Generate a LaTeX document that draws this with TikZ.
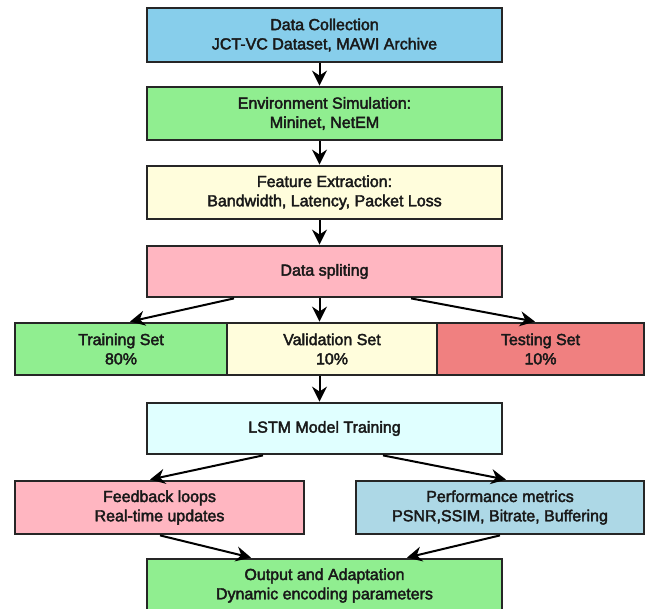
\documentclass[tikz,border=0pt]{standalone}
\usepackage{fontspec}
\setmainfont[FakeBold=2.5]{Liberation Sans}
\usetikzlibrary{arrows.meta}
\definecolor{cSky}{HTML}{87CEEB}
\definecolor{cGreen}{HTML}{90EE90}
\definecolor{cYellow}{HTML}{FFFDDC}
\definecolor{cPink}{HTML}{FFB6C1}
\definecolor{cCoral}{HTML}{F08080}
\definecolor{cCyan}{HTML}{E0FFFF}
\definecolor{cBlue}{HTML}{ADD8E6}
\begin{document}
\begin{tikzpicture}[x=1pt,y=-1pt,
  box/.style={draw=black!85,line width=2.8pt,rectangle,align=center,inner sep=0pt,
    font=\fontsize{16}{19.3}\selectfont,text=black!90},
  mainbox/.style={box,minimum width=355pt},
  arr/.style={-{Stealth[length=15pt,width=15pt,inset=5pt]},line width=2pt,black}]
\useasboundingbox (0,0) rectangle (646,609);
\node[mainbox,fill=cSky,minimum height=54pt] (dc) at (324.5,35) {Data Collection\\JCT-VC Dataset, MAWI Archive};
\node[mainbox,fill=cGreen,minimum height=53pt] (env) at (324.5,113.5) {Environment Simulation:\\Mininet, NetEM};
\node[mainbox,fill=cYellow,minimum height=53pt] (feat) at (324.5,192.5) {Feature Extraction:\\Bandwidth, Latency, Packet Loss};
\node[mainbox,fill=cPink,minimum height=51pt] (split) at (324.5,271.5) {Data spliting};
\node[box,fill=cGreen,minimum width=212pt,minimum height=52pt] (train) at (121,349) {Training Set\\80\%};
\node[box,fill=cYellow,minimum width=210pt,minimum height=52pt] (val) at (332,349) {Validation Set\\10\%};
\node[box,fill=cCoral,minimum width=207pt,minimum height=52pt] (test) at (540.5,349) {Testing Set\\10\%};
\node[mainbox,fill=cCyan,minimum height=51pt] (lstm) at (324.5,428.5) {LSTM Model Training};
\node[box,fill=cPink,minimum width=289pt,minimum height=53pt] (fb) at (159.5,507.5) {Feedback loops\\Real-time updates};
\node[box,fill=cBlue,minimum width=288pt,minimum height=53pt] (perf) at (500,507.5) {Performance metrics\\PSNR,SSIM, Bitrate, Buffering};
\node[mainbox,fill=cGreen,minimum height=53pt] (out) at (324.5,585.5) {Output and Adaptation\\Dynamic encoding parameters};
\draw[arr] ([xshift=-5pt]dc.south) -- ([xshift=-5pt]env.north);
\draw[arr] ([xshift=-5pt]env.south) -- ([xshift=-5pt]feat.north);
\draw[arr] ([xshift=-5pt]feat.south) -- ([xshift=-5pt]split.north);
\draw[arr] ([xshift=-90.5pt]split.south) -- ([xshift=9pt]train.north);
\draw[arr] ([xshift=-5pt]split.south) -- ([xshift=-12.5pt]val.north);
\draw[arr] ([xshift=86.5pt]split.south) -- ([xshift=-5.5pt]test.north);
\draw[arr] ([xshift=-12.5pt]val.south) -- ([xshift=-5pt]lstm.north);
\draw[arr] ([xshift=-61.5pt]lstm.south) -- ([xshift=-9.5pt]fb.north);
\draw[arr] ([xshift=58.5pt]lstm.south) -- ([xshift=6pt]perf.north);
\draw[arr] ([xshift=0.5pt]fb.south) -- ([xshift=-73.5pt]out.north);
\draw[arr] (perf.south) -- ([xshift=82.5pt]out.north);
\end{tikzpicture}
\end{document}
